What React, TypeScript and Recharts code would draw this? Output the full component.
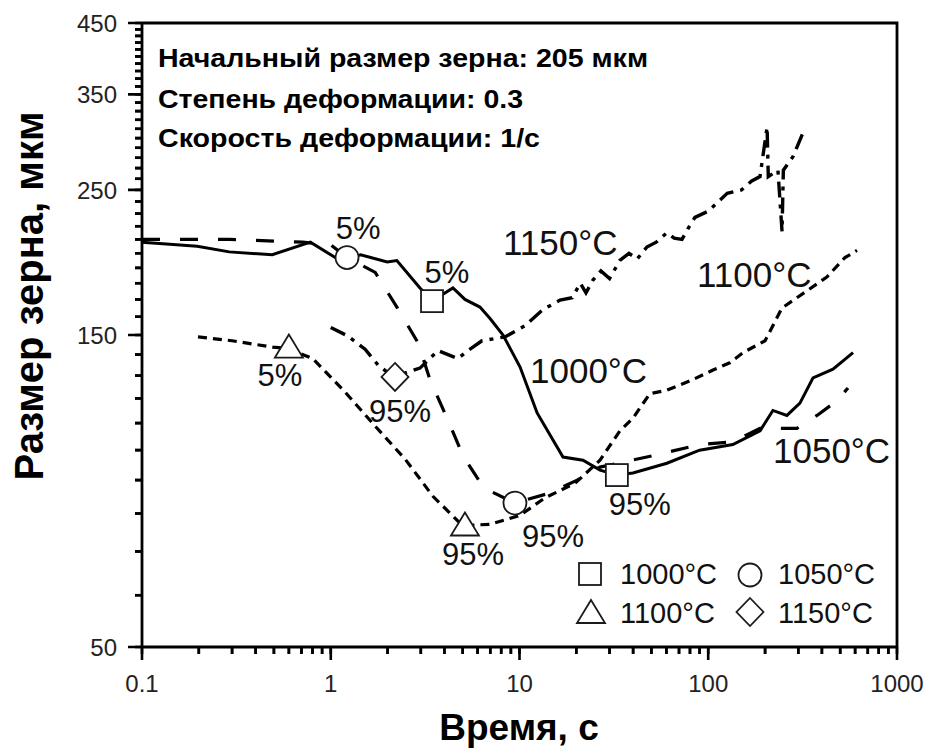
import { ComposedChart, Line, Scatter, XAxis, YAxis } from 'recharts';

const FONT = 'Arial, "Liberation Sans", Helvetica, sans-serif';

// time, s  /  grain size, um
const series1000: [number, number][] = [
  [0.1, 208], [0.196, 205], [0.29, 201], [0.49, 199], [0.78, 208], [1.12, 195], [1.44, 199],
  [1.99, 194], [2.24, 195], [2.97, 177], [3.44, 169], [4.44, 177], [5.14, 170], [6.17, 165.5],
  [6.98, 159], [8.18, 150], [10.07, 134], [12.4, 114], [17, 97.6], [21.7, 96.5], [26.7, 93.2],
  [32.8, 91.6], [39.9, 92.3], [60.4, 95.5], [90, 100], [135, 102], [188, 107], [220, 115],
  [261, 113], [306, 118], [359, 129], [458, 133], [585, 141],
];

const series1050: [number, number][] = [
  [0.1, 210], [0.29, 210], [0.71, 208], [1.0, 206], [1.22, 197], [1.72, 187], [2.24, 165.5],
  [2.9, 146], [3.36, 128], [4.13, 112], [5.02, 98], [6.48, 87.5], [9.46, 83], [14.5, 86],
  [20.2, 90], [26.7, 94.2], [50.4, 98], [90, 102], [135, 103], [188, 108], [295, 108],
  [377, 113], [481, 119], [550, 124.5],
];

const series1100: [number, number][] = [
  [0.198, 149], [0.3, 147], [0.494, 143.7], [0.594, 143], [0.805, 138], [1.19, 122.7],
  [1.76, 108], [2.47, 97], [3.48, 85], [4.98, 76.7], [6.98, 77], [10.07, 79.5], [13.6, 84.5],
  [19.7, 89], [26.7, 96.5], [34, 107], [40, 112], [49, 122], [60.4, 123.5], [82, 128],
  [106, 132.6], [130, 136], [153, 141], [200, 147], [246, 165], [338, 175.7], [425, 184],
  [530, 197], [614, 202],
];

const series1150: [number, number][] = [
  [1.0, 154], [1.23, 149.5], [1.52, 142.7], [1.78, 135], [2.14, 129.4], [2.97, 133.5],
  [3.7, 142], [4.72, 138], [5.33, 142], [6.33, 147], [8.38, 149], [10.7, 155], [13.3, 164],
  [16.4, 169.6], [19, 171], [21, 180], [22.5, 174], [24.5, 182], [27, 188], [30, 183],
  [34, 195], [38, 200], [42, 196], [47.3, 204.5], [53, 208], [60.4, 215], [66, 211],
  [72.6, 210], [78, 218], [85, 227], [100, 232], [126, 247], [150, 250], [170, 258],
  [188, 262], [205, 312], [208, 262], [234, 268], [246, 216], [250, 268], [281, 281],
  [306, 298], [318, 306],
];

const markers1000 = [{ id: '1000-5', t: 3.44, v: 169, label: '5%' }, { id: '1000-95', t: 32.8, v: 91.6, label: '95%' }];
const markers1050 = [{ id: '1050-5', t: 1.22, v: 197, label: '5%' }, { id: '1050-95', t: 9.46, v: 83, label: '95%' }];
const markers1100 = [{ id: '1100-5', t: 0.6, v: 143.5, label: '5%' }, { id: '1100-95', t: 5.14, v: 76.7, label: '95%' }];
const markers1150 = [{ id: '1150-95', t: 2.19, v: 129.4, label: '95%' }];

// where each percent label sits relative to its marker
const labelOffsets: Record<string, [number, number]> = {
  '1000-5': [15, -18], '1000-95': [23, 40],
  '1050-5': [11, -19], '1050-95': [38, 44],
  '1100-5': [-9, 38], '1100-95': [8, 40],
  '1150-95': [5, 45],
};

const xMajor = [0.1, 1, 10, 100, 1000];
const xTicks: number[] = [];
[0.1, 1, 10, 100].forEach((d) => { for (let k = 1; k < 10; k++) xTicks.push(d * k); });
xTicks.push(1000);

const yMajor = [50, 150, 250, 350, 450];
const yTicks: number[] = [];
for (let v = 50; v <= 450; v += 10) yTicks.push(v);

const notes = ['Начальный размер зерна: 205 мкм', 'Степень деформации: 0.3', 'Скорость деформации: 1/с'];

// plot box (must agree with chart margin + axis sizes below)
const BOX = { left: 142, right: 897, top: 23, bottom: 647 };
const X_DOM: [number, number] = [0.1, 1000];
const Y_DOM: [number, number] = [50, 450];
const logPos = (v: number, [d0, d1]: [number, number], p0: number, p1: number) =>
  p0 + ((p1 - p0) * Math.log(v / d0)) / Math.log(d1 / d0);

const toPts = (s: [number, number][]) => s.map(([t, v]) => ({ t, v }));
const isMajor = (list: number[], v: number) => list.some((m) => Math.abs(m - v) / m < 1e-6);

// axis draws 7px minor ticks; labels here (x is already 7px out from the axis)
function YTick(props: any) {
  const { x, y, payload } = props;
  if (!isMajor(yMajor, payload.value)) return <g />;
  return (
    <text x={x - 18} y={y} dy="0.36em" textAnchor="end" fontSize={24} fontFamily={FONT} fill="#222">
      {payload.value}
    </text>
  );
}

function XTick(props: any) {
  const { x, y, payload } = props;
  if (!isMajor(xMajor, payload.value)) return <g />;
  return (
    <text x={x} y={y + 38} textAnchor="middle" fontSize={24} fontFamily={FONT} fill="#222">
      {String(payload.value)}
    </text>
  );
}

function Marker({ kind, cx, cy }: { kind: string; cx: number; cy: number }) {
  const st = { fill: '#fff', stroke: '#1a1a1a', strokeWidth: 1.8 };
  if (kind === 'square') return <rect x={cx - 11} y={cy - 11} width={22} height={22} {...st} />;
  if (kind === 'circle') return <circle cx={cx} cy={cy} r={11.5} {...st} />;
  if (kind === 'triangle')
    return <polygon points={`${cx},${cy - 13} ${cx + 14},${cy + 10} ${cx - 14},${cy + 10}`} {...st} />;
  return <polygon points={`${cx},${cy - 14} ${cx + 13.5},${cy} ${cx},${cy + 14} ${cx - 13.5},${cy}`} {...st} />;
}

const markerShape = (kind: string) => (props: any) => {
  const { cx, cy, payload } = props;
  const [dx, dy] = labelOffsets[payload.id] || [0, 0];
  return (
    <g>
      <Marker kind={kind} cx={cx} cy={cy} />
      <text x={cx + dx} y={cy + dy} textAnchor="middle" fontSize={31} fontFamily={FONT} fill="#111">
        {payload.label}
      </text>
    </g>
  );
};

const lineStyle = { stroke: '#000', dot: false, isAnimationActive: false, type: 'linear' as const };
const axisStroke = { stroke: '#000', strokeWidth: 2.8 };
const tickStroke = { stroke: '#000', strokeWidth: 2.6 };

// tick marks + top/right frame, on the same log mapping as the axes
function Frame() {
  const d: string[] = [];
  xTicks.forEach((t) => {
    const x = logPos(t, X_DOM, BOX.left, BOX.right);
    d.push(`M${x.toFixed(1)},${BOX.bottom}v${isMajor(xMajor, t) ? 13 : 7}`);
  });
  yTicks.forEach((v) => {
    const y = logPos(v, Y_DOM, BOX.bottom, BOX.top);
    d.push(`M${BOX.left},${y.toFixed(1)}h${-(isMajor(yMajor, v) ? 14 : 7)}`);
  });
  return (
    <g>
      <path d={d.join('')} stroke="#000" strokeWidth={2.6} fill="none" />
      <path
        d={`M${BOX.left},${BOX.top}H${BOX.right}V${BOX.bottom}`}
        stroke="#000"
        strokeWidth={2.8}
        fill="none"
      />
    </g>
  );
}

export default function App() {
  return (
    <div style={{ position: 'absolute', left: 0, top: 0, width: 931, height: 751, background: '#fff' }}>
      <ComposedChart
        width={931}
        height={751}
        margin={{ top: BOX.top, right: 931 - BOX.right, left: 0, bottom: 0 }}
      >
        <XAxis
          dataKey="t"
          type="number"
          scale="log"
          domain={X_DOM}
          allowDataOverflow
          ticks={xTicks}
          interval={0}
          height={751 - BOX.bottom}
          tickSize={7}
          tickMargin={0}
          tickLine={tickStroke}
          tick={<XTick />}
          axisLine={axisStroke}
        />
        <YAxis
          dataKey="v"
          type="number"
          scale="log"
          domain={Y_DOM}
          allowDataOverflow
          ticks={yTicks}
          interval={0}
          width={BOX.left}
          tickSize={7}
          tickMargin={0}
          tickLine={tickStroke}
          tick={<YTick />}
          axisLine={axisStroke}
        />

        <Line data={toPts(series1150)} dataKey="v" {...lineStyle} strokeWidth={3.4} strokeDasharray="16 7 4 7" />
        <Line data={toPts(series1100)} dataKey="v" {...lineStyle} strokeWidth={3.2} strokeDasharray="9 6" />
        <Line data={toPts(series1050)} dataKey="v" {...lineStyle} strokeWidth={3.2} strokeDasharray="18 20" />
        <Line data={toPts(series1000)} dataKey="v" {...lineStyle} strokeWidth={3} />

        <Scatter data={markers1000} dataKey="v" shape={markerShape('square')} isAnimationActive={false} />
        <Scatter data={markers1050} dataKey="v" shape={markerShape('circle')} isAnimationActive={false} />
        <Scatter data={markers1100} dataKey="v" shape={markerShape('triangle')} isAnimationActive={false} />
        <Scatter data={markers1150} dataKey="v" shape={markerShape('diamond')} isAnimationActive={false} />
      </ComposedChart>

      <svg width={931} height={751} style={{ position: 'absolute', left: 0, top: 0, pointerEvents: 'none' }}>
        <Frame />
        <g fontFamily={FONT} fontWeight="bold" fontSize={25} fill="#000">
          <text x={158} y={67} textLength={490} lengthAdjust="spacingAndGlyphs">{notes[0]}</text>
          <text x={158} y={108} textLength={365} lengthAdjust="spacingAndGlyphs">{notes[1]}</text>
          <text x={158} y={147} textLength={382} lengthAdjust="spacingAndGlyphs">{notes[2]}</text>
        </g>
        <g fontFamily={FONT} fontSize={35} fill="#111">
          <text x={503} y={255}>1150°C</text>
          <text x={697} y={287}>1100°C</text>
          <text x={530} y={383}>1000°C</text>
          <text x={773} y={463}>1050°C</text>
        </g>
        <g fontFamily={FONT} fontSize={29} fill="#111">
          <Marker kind="square" cx={590} cy={574} />
          <text x={620} y={584}>1000°C</text>
          <Marker kind="circle" cx={750} cy={575} />
          <text x={778} y={584}>1050°C</text>
          <Marker kind="triangle" cx={591} cy={613} />
          <text x={620} y={623}>1100°C</text>
          <Marker kind="diamond" cx={750} cy={612} />
          <text x={778} y={623}>1150°C</text>
        </g>
        <text x={519} y={740} textAnchor="middle" fontFamily={FONT} fontWeight="bold" fontSize={37} fill="#000">
          Время, с
        </text>
        <text
          transform="translate(43,296) rotate(-90)"
          textAnchor="middle"
          fontFamily={FONT}
          fontWeight="bold"
          fontSize={40}
          fill="#000"
        >
          Размер зерна, мкм
        </text>
      </svg>
    </div>
  );
}
